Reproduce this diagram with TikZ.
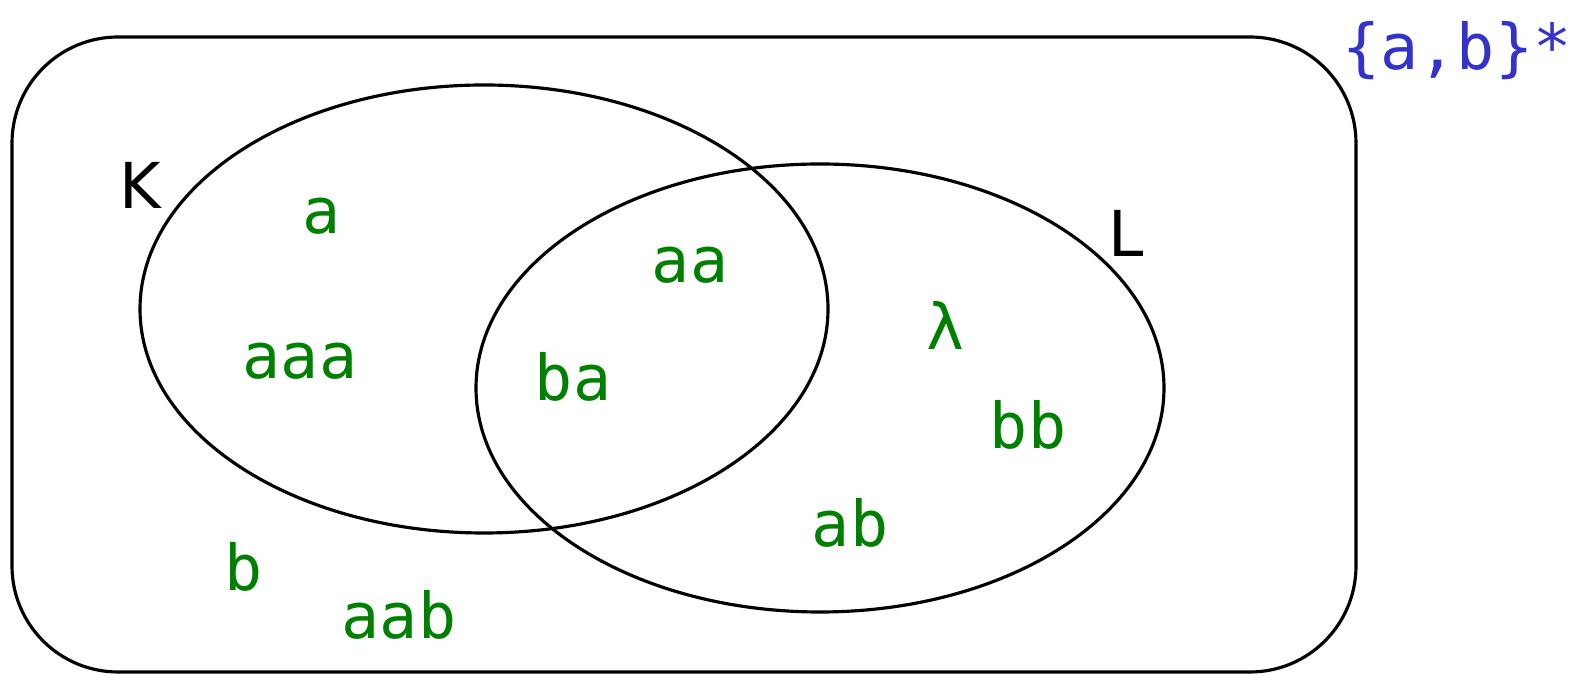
\documentclass[tikz,border=0pt]{standalone}
\usepackage{fontspec}
\setmainfont{DejaVu Sans}
\newfontfamily\wordfont{DejaVu Sans Mono}
\usetikzlibrary{positioning}
\definecolor{wordgreen}{RGB}{0,128,0}
\definecolor{setblue}{RGB}{51,51,204}

\begin{document}
\begin{tikzpicture}[
    x=0.01cm, y=-0.01cm,
    line width=0.9pt,
    word/.style={text=wordgreen, font=\wordfont\fontsize{18}{20}\selectfont, inner sep=0pt},
    setname/.style={font=\fontsize{18}{20}\selectfont, inner sep=0pt},
    universe/.style={text=setblue, font=\wordfont\fontsize{18}{20}\selectfont, inner sep=0pt}
  ]
    \useasboundingbox (0,0) rectangle (1587,674);
    % universe box and the two sets
    \draw[rounded corners=1.06cm] (12,37) rectangle (1356,672);
    \draw (484,309) ellipse [x radius=344, y radius=224];
    \draw (820,388) ellipse [x radius=344, y radius=224];

    \node[universe] (U) at (1457,51) {\{a,b\}*};
    \node[setname] (K) at (140,185) {K};
    \node[setname] (L) at (1126,233) {L};

    \node[word] (a) at (322,216) {a};
    \node[word] (aaa) at (300,361) {aaa};
    \node[word] (aa) at (690,265) {aa};
    \node[word] (ba) at (573,377) {ba};
    \node[word] (lambda) at (946,325) {λ};
    \node[word] (bb) at (1028,425) {bb};
    \node[word] (ab) at (850,523) {ab};
    \node[word] (b) at (244,567) {b};
    \node[word] (aab) at (399,615) {aab};
  \end{tikzpicture}
\end{document}
